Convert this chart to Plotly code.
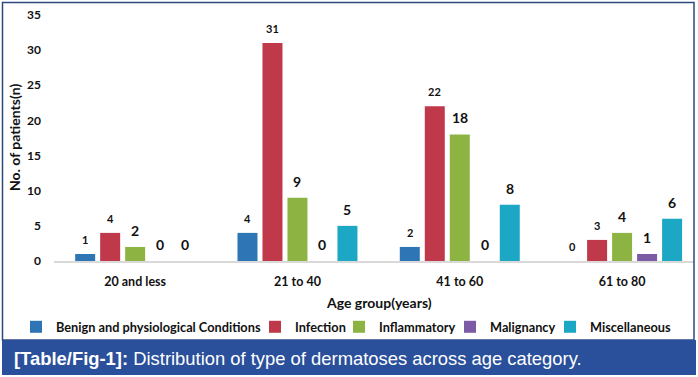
import plotly.graph_objects as go

W, H = 698, 377

age_groups = ["20 and less", "21 to 40", "41 to 60", "61 to 80"]
series_names = ["Benign and physiological Conditions", "Infection", "Inflammatory",
                "Malignancy", "Miscellaneous"]
benign = [1, 4, 2, 0]
infection = [4, 31, 22, 3]
inflammatory = [2, 9, 18, 4]
malignancy = [0, 0, 0, 1]
miscellaneous = [0, 5, 8, 6]
series_values = [benign, infection, inflammatory, malignancy, miscellaneous]
colors = ["#2E75B6", "#C0394A", "#8DB443", "#7B5BA6", "#1CA8C4"]
label_sizes = [11, 11, 14, 14, 14]
legend_text_x = [56, 295, 379, 490, 590]

y_ticks = [0, 5, 10, 15, 20, 25, 30, 35]

def px(x):
    return x / W

def py(y):
    return 1 - y / H

FONT = "Lato"
legend_ids = ["legend", "legend2", "legend3", "legend4", "legend5"]

fig = go.Figure()
for name, vals, col, lid in zip(series_names, series_values, colors, legend_ids):
    fig.add_trace(go.Bar(
        x=age_groups, y=vals, name=name, legend=lid,
        marker=dict(color=col, line=dict(width=0)),
    ))

# value labels above each bar
n = len(series_names)
slot_px = 25
for i, (vals, size) in enumerate(zip(series_values, label_sizes)):
    for cat, v in zip(age_groups, vals):
        fig.add_annotation(
            x=cat, y=v, xref="x", yref="y", text=str(v), showarrow=False,
            xshift=(i - (n - 1) / 2) * slot_px, yshift=6, yanchor="bottom",
            font=dict(family=FONT, size=size, color="#111111", weight="bold"),
        )

legend_style = dict(
    orientation="h", yanchor="middle", xanchor="left", y=py(327),
    font=dict(family=FONT, size=12.75, color="#111111", weight="bold"),
    itemwidth=30, bgcolor="rgba(0,0,0,0)",
)
legends = {}
for lid, tx in zip(legend_ids, legend_text_x):
    legends[lid] = dict(legend_style, x=px(tx - 40))

fig.update_layout(
    width=W, height=H,
    margin=dict(l=0, r=0, t=0, b=0, autoexpand=False),
    paper_bgcolor="white", plot_bgcolor="white",
    barmode="group", bargap=0.23, bargroupgap=0.2,
    showlegend=True,
    **legends,
    xaxis=dict(
        domain=[px(54), px(694)], range=[-0.5, 3.443], automargin=False,
        showline=True, linecolor="#D9D9D9", linewidth=1.5,
        ticks="", showgrid=False, zeroline=False,
        tickfont=dict(family=FONT, size=12.5, color="#111111", weight="bold"),
        ticklabelstandoff=8,
    ),
    yaxis=dict(
        domain=[py(261), py(15)], range=[0, 35], automargin=False,
        tickvals=y_ticks, ticktext=[str(t) for t in y_ticks],
        showline=False, showgrid=False, zeroline=False, ticks="",
        tickfont=dict(family=FONT, size=12, color="#111111", weight="bold"),
        ticklabelstandoff=12,
    ),
)

# axis titles
fig.add_annotation(
    x=px(14), y=py(138), xref="paper", yref="paper", text="No. of patients(n)",
    textangle=-90, showarrow=False, xanchor="center", yanchor="middle",
    font=dict(family=FONT, size=14, color="#111111", weight="bold"),
)
fig.add_annotation(
    x=px(379), y=py(302), xref="paper", yref="paper", text="Age group(years)",
    showarrow=False, xanchor="center", yanchor="middle",
    font=dict(family=FONT, size=14, color="#111111", weight="bold"),
)

# frame and caption band
fig.add_shape(type="rect", xref="paper", yref="paper",
              x0=px(2.5), x1=px(694), y0=py(340), y1=py(2.5),
              line=dict(color="#2D4A7C", width=1.5), fillcolor="rgba(0,0,0,0)", layer="above")
fig.add_shape(type="rect", xref="paper", yref="paper",
              x0=px(2), x1=px(696), y0=py(375), y1=py(340),
              line=dict(width=0), fillcolor="#2A4F9B", layer="above")
fig.add_annotation(
    x=px(12), y=py(358), xref="paper", yref="paper", xanchor="left", yanchor="middle",
    text="<b>[Table/Fig-1]:</b> Distribution of type of dermatoses across age category.",
    showarrow=False,
    font=dict(family="Liberation Sans", size=18.4, color="white"),
)

fig.write_html(
    "out.html",
    config={"displayModeBar": False},
    post_script="document.body.style.margin='0';document.body.style.overflow='hidden';",
)
